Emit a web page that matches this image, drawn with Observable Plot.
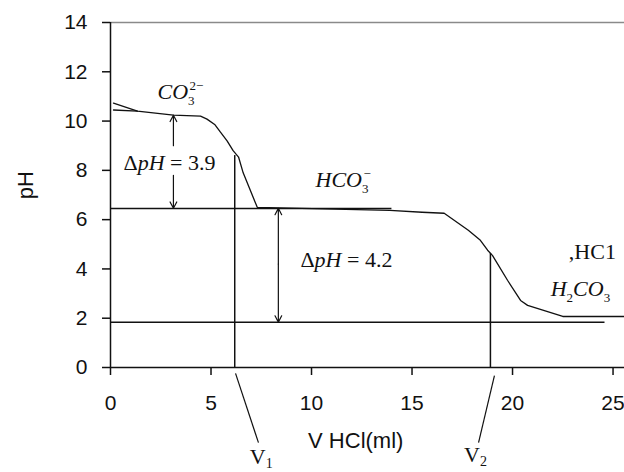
<!DOCTYPE html>
<html><head><meta charset="utf-8">
<script src="https://cdn.jsdelivr.net/npm/d3@7"></script>
<script src="https://cdn.jsdelivr.net/npm/@observablehq/plot@0.6"></script>
<style>body{margin:0;background:#fff}#chart svg{display:block}</style>
</head><body><div id="chart"></div>
<script>
// titration curve: V HCl (ml) vs pH
const volume = [0.15, 1.34, 3.13, 4.48, 4.8, 5.2, 5.47, 5.8, 6.1, 6.37, 6.6, 7.3, 13.9, 15.5, 16.6, 17.8, 18.4, 18.76, 19.0, 19.75, 20.4, 20.75, 22.5, 25.6];
const pHvalues = [10.73, 10.4, 10.24, 10.2, 10.08, 9.85, 9.55, 9.2, 8.8, 8.54, 7.9, 6.5, 6.38, 6.3, 6.26, 5.57, 5.16, 4.76, 4.55, 3.54, 2.72, 2.52, 2.07, 2.07];
const startVolume = [0.15, 1.34];
const startPH = [10.45, 10.4];
const xTicks = [0, 5, 10, 15, 20, 25];
const yTicks = [0, 2, 4, 6, 8, 10, 12, 14];
const eqVolume = [6.18, 18.9];       // V1, V2
const eqPH = [8.6, 4.63];
const levelPH = [6.45, 1.84];
const levelEnd = [14, 24.6];
const deltaLabels = ["ΔpH = 3.9", "ΔpH = 4.2"];
const speciesLabels = ["CO3^2-", "HCO3-", ",HC1", "H2CO3"];

const curve = volume.map((v, i) => ({v, pH: pHvalues[i]}));
const start = startVolume.map((v, i) => ({v, pH: startPH[i]}));

const serif = "'Liberation Serif','Times New Roman',serif";
const sans = "'Liberation Sans',Arial,sans-serif";

const chart = Plot.plot({
  width: 624, height: 472,
  marginLeft: 110, marginRight: 0, marginTop: 22, marginBottom: 105,
  x: {domain: [0, 25.57]},
  y: {domain: [0, 14]},
  style: {fontFamily: sans, color: "#111", background: "#fff"},
  marks: [
    Plot.ruleY([14], {stroke: "#8a8a8a", strokeWidth: 1.5}),
    Plot.axisY({ticks: yTicks, tickSize: 8, tickPadding: 15, fontSize: 21, label: null, strokeWidth: 1.5}),
    Plot.axisX({ticks: xTicks, tickSize: 8, tickPadding: 20, fontSize: 21, label: null, strokeWidth: 1.5}),
    Plot.ruleX([0], {stroke: "#111", strokeWidth: 1.5}),
    Plot.ruleY([0], {stroke: "#111", strokeWidth: 1.5}),
    // horizontal levels
    Plot.ruleY(levelPH, {y: d => d, x1: 0, x2: (d, i) => levelEnd[i], stroke: "#111", strokeWidth: 1.5}),
    // equivalence verticals
    Plot.ruleX(eqVolume, {x: d => d, y1: 0, y2: (d, i) => eqPH[i], stroke: "#111", strokeWidth: 1.5}),
    // curve
    Plot.line(curve, {x: "v", y: "pH", stroke: "#111", strokeWidth: 1.3}),
    Plot.line(start, {x: "v", y: "pH", stroke: "#111", strokeWidth: 1.3}),
    // delta arrows
    Plot.arrow([
      {x1: 3.13, y1: 9.0, x2: 3.13, y2: 10.24},
      {x1: 3.13, y1: 7.8, x2: 3.13, y2: 6.46},
      {x1: 8.35, y1: 4.2, x2: 8.35, y2: 6.46},
      {x1: 8.35, y1: 4.2, x2: 8.35, y2: 1.84}
    ], {x1: "x1", y1: "y1", x2: "x2", y2: "y2", stroke: "#111", strokeWidth: 1.2, headLength: 9, headAngle: 55}),
    // leaders for V1, V2
    Plot.link([
      {x1: 6.22, y1: -0.24, x2: 7.36, y2: -3.05},
      {x1: 19.1, y1: -0.33, x2: 18.31, y2: -3.05}
    ], {x1: "x1", y1: "y1", x2: "x2", y2: "y2", stroke: "#111", strokeWidth: 1.2}),
    Plot.text(["V1", "V2"], {x: [7.5, 18.16], y: [-3.62, -3.55], text: d => d, fontFamily: serif, fontSize: 22, fill: "#111"}),
    // delta labels
    Plot.text(deltaLabels, {x: [0.65, 9.45], y: [8.3, 4.35], text: d => d, textAnchor: "start", fontFamily: serif, fontSize: 22, fill: "#111"}),
    // species labels
    Plot.text(speciesLabels, {x: [2.34, 10.2, 22.8, 21.9], y: [11.18, 7.6, 4.67, 3.2], text: d => d, textAnchor: "start", fontFamily: serif, fontSize: 22, fill: "#111"}),
    // axis titles
    Plot.text(["V HCl(ml)"], {x: 12.2, y: -2.97, text: d => d, fontSize: 22, fontFamily: sans, fill: "#111"}),
    Plot.text(["pH"], {x: -4.23, y: 7.4, text: d => d, rotate: -90, fontSize: 22, fontFamily: sans, fill: "#111"})
  ]
});

// rich text (italics, sub/superscripts)
const rich = {
  "CO3^2-": [["CO", "i"], ["3", "sub"], ["2−", "supback"]],
  "HCO3-": [["HCO", "i"], ["3", "sub"], ["−", "supback"]],
  "H2CO3": [["H", "i"], ["2", "sub"], ["CO", "i"], ["3", "sub"]],
  "ΔpH = 3.9": [["Δ", ""], ["pH", "i"], [" = 3.9", ""]],
  "ΔpH = 4.2": [["Δ", ""], ["pH", "i"], [" = 4.2", ""]],
  "V1": [["V", ""], ["1", "vsub"]],
  "V2": [["V", ""], ["2", "vsub"]]
};
const NS = "http://www.w3.org/2000/svg";
chart.querySelectorAll("text").forEach(t => {
  const parts = rich[t.textContent];
  if (!parts) return;
  t.textContent = "";
  let shift = 0;
  for (const [s, kind] of parts) {
    const ts = document.createElementNS(NS, "tspan");
    ts.textContent = s;
    let target = 0;
    if (kind === "i") ts.setAttribute("font-style", "italic");
    if (kind === "sub") { target = 6; ts.setAttribute("font-size", "13"); }
    if (kind === "vsub") { target = 4; ts.setAttribute("font-size", "14"); }
    if (kind === "supback") { target = -9; ts.setAttribute("font-size", "13"); ts.setAttribute("dx", "-5"); }
    if (target - shift !== 0) ts.setAttribute("dy", String(target - shift));
    shift = target;
    t.appendChild(ts);
  }
});
document.getElementById("chart").appendChild(chart);
</script>
</body></html>
